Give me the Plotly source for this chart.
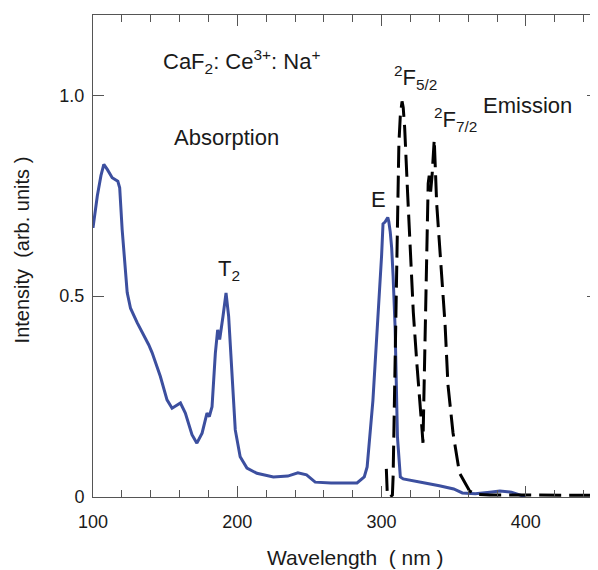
import plotly.graph_objects as go

# Absorption spectrum (blue)
abs_nm = [100, 103, 105.5, 107.5, 110, 113.3, 117.2, 118.5, 120.2, 123.7, 126, 130.6, 138.6, 141,
          146.7, 151.3, 154.8, 157.5, 160.6, 164, 168.6, 172, 175.6, 179, 180.6, 182.5, 184.8, 186.4,
          187.8, 190.1, 192.2, 194, 196.3, 198.6, 202, 206.7, 213.6, 225, 235, 242, 248, 254, 265,
          283, 288, 290, 294, 297, 298.5, 300, 301, 302.5, 304.3, 305, 306, 307, 308, 309.4, 311,
          313, 315, 320, 330, 340, 350, 356, 365, 375, 382, 390, 396, 400]
abs_val = [0.67, 0.75, 0.80, 0.828, 0.815, 0.795, 0.786, 0.77, 0.666, 0.509, 0.47, 0.434, 0.379, 0.359,
           0.30, 0.242, 0.221, 0.228, 0.234, 0.209, 0.155, 0.134, 0.159, 0.209, 0.20, 0.225, 0.358, 0.416,
           0.392, 0.45, 0.508, 0.45, 0.292, 0.167, 0.10, 0.072, 0.059, 0.05, 0.052, 0.06, 0.055, 0.037, 0.035,
           0.035, 0.05, 0.075, 0.24, 0.41, 0.49, 0.6, 0.68, 0.685, 0.696, 0.686, 0.66, 0.62, 0.55, 0.42, 0.15,
           0.05, 0.045, 0.042, 0.035, 0.028, 0.02, 0.01, 0.008, 0.012, 0.015, 0.012, 0.004, 0.0]

# Emission spectrum (black dashed)
em_nm = [303.3, 303.6, 304, 306, 307.5, 308, 308.7, 309.5, 310.5, 311, 312, 313, 314.2, 315, 316,
         318, 320, 322, 324.5, 326.7, 328, 328.7, 329.5, 330.5, 331.5, 332.3, 333, 334, 335, 336,
         336.5, 338.2, 341.7, 344, 346, 349.5, 354, 358, 361, 365, 375, 400, 420, 450]
em_val = [0.07, 0.04, 0.005, 0.0, 0.005, 0.05, 0.2, 0.4, 0.55, 0.75, 0.88, 0.95, 0.985, 0.97, 0.92,
          0.76, 0.6, 0.46, 0.33, 0.24, 0.17, 0.135, 0.3, 0.5, 0.7, 0.78, 0.80, 0.76, 0.80, 0.87,
          0.89, 0.73, 0.55, 0.43, 0.28, 0.16, 0.06, 0.035, 0.015, 0.007, 0.005, 0.005, 0.004, 0.004]

x_ticks = [100, 200, 300, 400]
y_ticks = [0, 0.5, 1.0]
y_tick_labels = ["0", "0.5", "1.0"]

FONT = "Liberation Sans, Arial, Helvetica, sans-serif"
TXT = "#1a1a1a"
AX = "#555555"

fig = go.Figure()
fig.add_trace(go.Scatter(x=abs_nm, y=abs_val, mode="lines",
                         line=dict(color="#3c4f9f", width=3), showlegend=False))
fig.add_trace(go.Scatter(x=em_nm, y=em_val, mode="lines",
                         line=dict(color="black", width=3, dash="22px,8px"), showlegend=False))

fig.update_xaxes(range=[100, 450], tickvals=x_ticks, ticks="inside", ticklen=11, tickwidth=1,
                 tickcolor=AX, showline=True, linecolor=AX, linewidth=1, mirror="allticks",
                 showgrid=False, zeroline=False, ticklabelstandoff=8, automargin=False,
                 tickfont=dict(family=FONT, size=18, color=TXT),
                 minor=dict(dtick=20, tick0=100, ticks="inside", ticklen=7, tickcolor=AX, tickwidth=1,
                            showgrid=False))
fig.update_yaxes(range=[0, 1.2], tickvals=y_ticks, ticktext=y_tick_labels, ticks="inside",
                 ticklen=11, tickwidth=1, tickcolor=AX, showline=True, linecolor=AX, linewidth=1,
                 mirror="allticks", showgrid=False, zeroline=False, ticklabelstandoff=4,
                 automargin=False, tickfont=dict(family=FONT, size=18, color=TXT))

ann_font = dict(family=FONT, size=22, color=TXT)
annotations = [
    dict(x=202.8, y=1.085, text="CaF<sub>2</sub>: Ce<sup>3+</sup>: Na<sup>+</sup>"),
    dict(x=192.4, y=0.895, text="Absorption"),
    dict(x=194.5, y=0.566, text="T<sub>2</sub>"),
    dict(x=297.6, y=0.74, text="E"),
    dict(x=323.2, y=1.045, text="<sup>2</sup>F<sub>5/2</sub>"),
    dict(x=350.9, y=0.94, text="<sup>2</sup>F<sub>7/2</sub>"),
    dict(x=401.4, y=0.975, text="Emission"),
]
for a in annotations:
    a.update(xref="x", yref="y", showarrow=False, font=ann_font, xanchor="center", yanchor="middle")

annotations.append(dict(xref="paper", yref="paper", x=0.519, y=0, yshift=-60, showarrow=False,
                        text="Wavelength  ( nm )", font=dict(family=FONT, size=21, color=TXT),
                        xanchor="center", yanchor="middle"))
annotations.append(dict(xref="paper", yref="paper", x=0, y=0.512, xshift=-70.8, showarrow=False,
                        text="Intensity  (arb. units )", textangle=-90,
                        font=dict(family=FONT, size=20, color=TXT),
                        xanchor="center", yanchor="middle"))

# the page body adds an 8px margin, so the figure is 8px smaller than the window
fig.update_layout(width=590, height=562, margin=dict(l=84.5, r=0, t=7, b=73),
                  plot_bgcolor="white", paper_bgcolor="white", annotations=annotations)

fig.write_html("out.html")
